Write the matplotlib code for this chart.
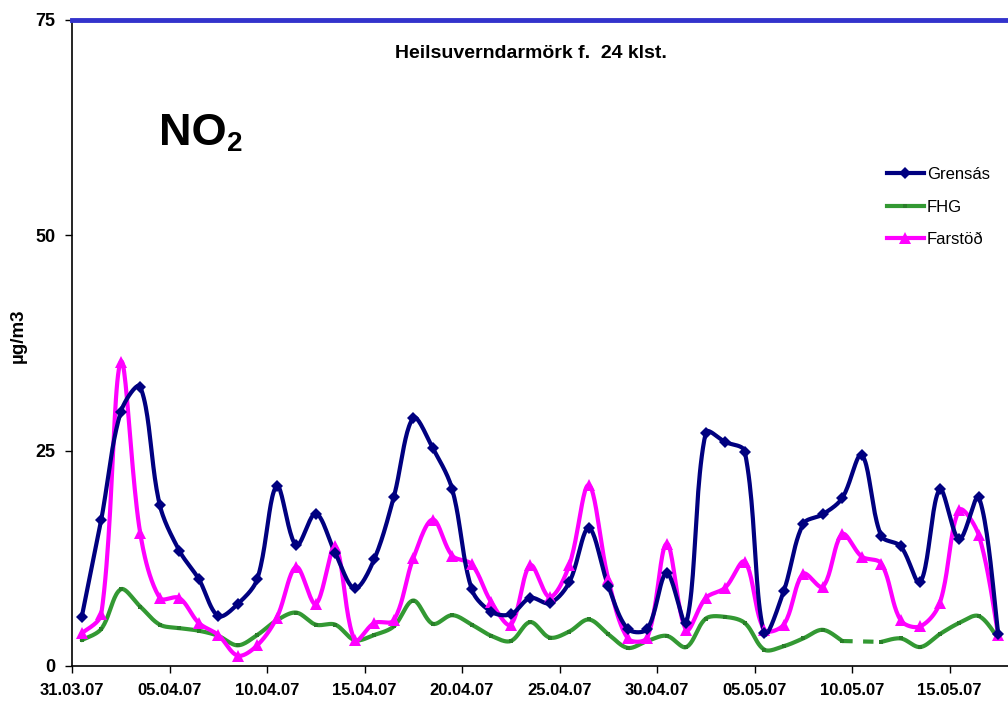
#!/usr/bin/env python3
"""NO2 daily means, Grensás / FHG / Farstöð, 31.03.07 - 17.05.07."""

import numpy as np
import matplotlib
matplotlib.use("Agg")
import matplotlib.pyplot as plt
from matplotlib.lines import Line2D

plt.rcParams["font.family"] = ["Liberation Sans", "DejaVu Sans"]

# --------------------------------------------------------------------------- #
# Data (µg/m3, one value per day starting 31.03.07)                           #
# --------------------------------------------------------------------------- #
grensas = [5.7, 17.0, 29.5, 32.4, 18.7, 13.4, 10.1, 5.8, 7.2, 10.1,
           20.9, 14.0, 17.7, 13.1, 9.0, 12.4, 19.6, 28.8, 25.3, 20.5,
           8.9, 6.3, 6.0, 7.9, 7.3, 9.7, 16.0, 9.3, 4.3, 4.3,
           10.8, 5.0, 27.1, 26.0, 24.9, 3.8, 8.7, 16.5, 17.6, 19.5,
           24.5, 15.1, 13.9, 9.7, 20.5, 14.7, 19.6, 3.7]
fhg = [3.0, 4.3, 8.9, 6.9, 4.8, 4.4, 4.1, 3.5, 2.4, 3.6,
       5.3, 6.2, 4.8, 4.8, 3.0, 3.6, 4.6, 7.6, 4.9, 5.9,
       4.8, 3.5, 2.9, 5.1, 3.3, 4.0, 5.4, 3.7, 2.1, 2.9,
       3.5, 2.2, 5.5, 5.7, 5.0, 1.9, 2.3, 3.2, 4.2, 2.9,
       np.nan, 2.8, 3.2, 2.2, 3.7, 5.0, 5.8, 3.2]
farstod = [3.8, 6.0, 35.3, 15.4, 7.9, 7.9, 5.0, 3.6, 1.2, 2.4,
           5.6, 11.5, 7.2, 13.9, 3.0, 5.0, 5.3, 12.5, 17.0, 12.8,
           11.8, 7.4, 4.8, 11.7, 8.0, 11.7, 21.0, 10.1, 3.2, 3.3,
           14.2, 4.2, 7.9, 9.1, 12.1, 4.2, 4.8, 10.7, 9.2, 15.3,
           12.7, 11.9, 5.3, 4.6, 7.3, 18.1, 15.2, 3.6]

date_labels = ["31.03.07", "05.04.07", "10.04.07", "15.04.07", "20.04.07",
               "25.04.07", "30.04.07", "05.05.07", "10.05.07", "15.05.07"]
yticks = [0, 25, 50, 75]
limit_24h = 75

NAVY, GREEN, MAGENTA, LIMIT = "#000080", "#339933", "#FF00FF", "#3333CC"
FHG_MARK = "#2A7F2A"

# pixel size of one x unit (day) and one y unit (µg/m3) - used for smoothing
PX_X, PX_Y = 19.5, 8.61


# --------------------------------------------------------------------------- #
def _smooth(x, y, n=24):
    """Excel-like smoothed line: Bezier, tangents weighted by chord length."""
    p = np.column_stack([np.asarray(x) * PX_X, np.asarray(y) * PX_Y])
    out = [p[0]]
    t = np.linspace(0, 1, n)[1:, None]
    d = np.hypot(*np.diff(p, axis=0).T)
    for i in range(len(p) - 1):
        p1, p2 = p[i], p[i + 1]
        if i > 0:
            c1 = p1 + (p2 - p[i - 1]) * d[i] / (d[i - 1] + d[i]) / 3
        else:
            c1 = p1 + (p2 - p1) / 6
        if i + 2 < len(p):
            c2 = p2 - (p[i + 2] - p1) * d[i] / (d[i] + d[i + 1]) / 3
        else:
            c2 = p2 - (p2 - p1) / 6
        seg = ((1 - t) ** 3 * p1 + 3 * (1 - t) ** 2 * t * c1
               + 3 * (1 - t) * t ** 2 * c2 + t ** 3 * p2)
        out.extend(seg)
    out = np.array(out)
    return out[:, 0] / PX_X, out[:, 1] / PX_Y


def _plot_series(ax, vals, color, lw, marker, ms, mcolor=None):
    y = np.asarray(vals, dtype=float)
    x = np.arange(len(y)) + 0.5
    ok = ~np.isnan(y)
    # smooth each contiguous run of valid points
    runs, start = [], None
    for i, good in enumerate(ok):
        if good and start is None:
            start = i
        if not good and start is not None:
            runs.append((start, i)); start = None
    if start is not None:
        runs.append((start, len(y)))
    for a, b in runs:
        sx, sy = _smooth(x[a:b], y[a:b])
        ax.plot(sx, sy, color=color, lw=lw, solid_capstyle="round", zorder=3)
    # dashed bridge across gaps
    for (a0, b0), (a1, b1) in zip(runs[:-1], runs[1:]):
        ax.plot([x[b0 - 1], x[a1]], [y[b0 - 1], y[a1]], color=color, lw=lw,
                ls=(0, (2.5, 2.5)), zorder=3)
    mc = mcolor or color
    ax.plot(x[ok], y[ok], ls="none", marker=marker, ms=ms, color=mc,
            mec=mc, mew=0, zorder=4)


# --------------------------------------------------------------------------- #
fig = plt.figure(figsize=(10.08, 7.02), dpi=100)
ax = fig.add_axes([72 / 1008, 36 / 702, 936 / 1008, 646 / 702])

_plot_series(ax, fhg, GREEN, 3.0, "s", 3, FHG_MARK)
_plot_series(ax, farstod, MAGENTA, 3.0, "^", 8)
_plot_series(ax, grensas, NAVY, 3.0, "D", 6)

ax.axhline(limit_24h, color=LIMIT, lw=3.5, clip_on=False, zorder=5)

ax.set_xlim(0, len(grensas))
ax.set_ylim(0, 75)
ax.set_xticks(np.arange(len(date_labels)) * 5)
ax.set_xticklabels(date_labels, fontsize=12, fontweight="bold")
ax.set_yticks(yticks)
ax.set_yticklabels([str(v) for v in yticks], fontsize=13, fontweight="bold")
ax.tick_params(axis="both", direction="out", length=5, width=1, color="black")
ax.tick_params(axis="x", pad=7)
ax.tick_params(axis="y", pad=7)
for s in ("top", "right"):
    ax.spines[s].set_visible(False)
for s in ("left", "bottom"):
    ax.spines[s].set_linewidth(1.2)

fig.text(18 / 1008, 1 - 336 / 702, "µg/m3", rotation=90, fontsize=13.5,
         fontweight="bold", ha="center", va="center")
fig.text(531 / 1008, 1 - 58 / 702, "Heilsuverndarmörk f.  24 klst.",
         fontsize=14, fontweight="bold", ha="center", va="baseline")
fig.text(159 / 1008, 1 - 145 / 702, "NO", fontsize=32.5, fontweight="bold",
         ha="left", va="baseline")
fig.text(227 / 1008, 1 - 151 / 702, "2", fontsize=20, fontweight="bold",
         ha="left", va="baseline")

handles = [
    Line2D([], [], color=NAVY, lw=3, marker="D", ms=6, mew=0),
    Line2D([], [], color=GREEN, lw=3, marker="s", ms=3, mew=0,
           mfc=FHG_MARK),
    Line2D([], [], color=MAGENTA, lw=3, marker="^", ms=8, mew=0),
]
fig.legend(handles, ["Grensás", "FHG", "Farstöð"], loc="upper left",
           bbox_to_anchor=(887 / 1008, 1 - 167 / 702), frameon=False,
           fontsize=12, handlelength=2.2, handletextpad=0.2,
           labelspacing=1.05, borderpad=0, borderaxespad=0)

fig.savefig("out.png", dpi=100)
